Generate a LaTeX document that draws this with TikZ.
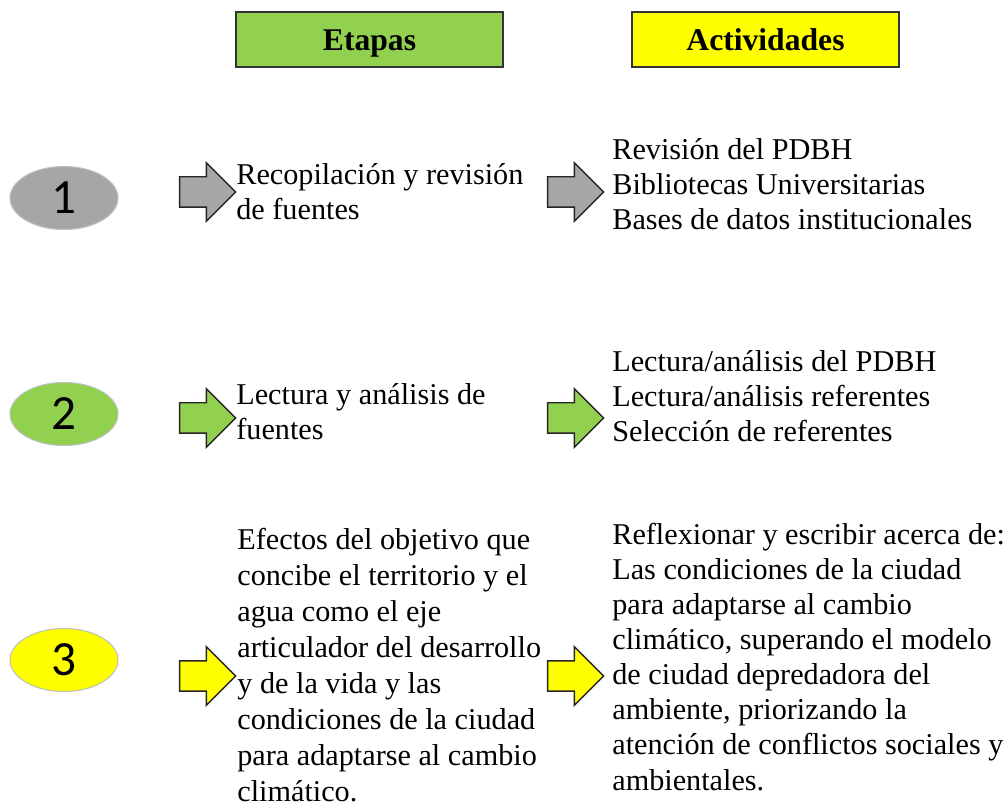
\documentclass[tikz,border=0pt]{standalone}
\usepackage{fontspec}
\setmainfont{Liberation Serif}
\newfontfamily\numfont{Carlito}
\usetikzlibrary{shapes.geometric,shapes.arrows}
\definecolor{verde}{RGB}{146,208,80}
\definecolor{amarillo}{RGB}{255,255,0}
\definecolor{gris}{RGB}{166,166,166}

\begin{document}
\begin{tikzpicture}[x=0.02cm, y=-0.02cm,
  encabezado/.style={draw=black!80, line width=1.1pt, minimum width=5.34cm, minimum height=1.1cm, text height=14pt, text depth=1.6pt, font=\fontsize{18}{22}\selectfont\bfseries},
  numero/.style={ellipse, draw=black!25, line width=0.6pt, minimum width=2.16cm, minimum height=1.26cm, inner sep=0pt, font=\numfont\fontsize{28}{30}\selectfont},
  flecha/.style={single arrow, draw=black!85, line width=0.8pt, inner xsep=0pt, inner ysep=0.29cm, minimum height=1.12cm, minimum width=1.14cm, single arrow head extend=0.28cm},
  texto/.style={anchor=base west, align=left, inner sep=0pt, font=\fontsize{17.2}{20}\selectfont}]
\useasboundingbox (0,0) rectangle (1008,810);
% Encabezados
\node[encabezado, fill=verde] (etapas) at (369.5,39.5) {Etapas};
\node[encabezado, fill=amarillo] (actividades) at (765.5,39.5) {Actividades};
% Etapa 1 (el ancla base cae en la ultima linea)
\node[numero, fill=gris] (n1) at (64,198) {1};
\node[flecha, fill=gris] (a1) at (200,192) {};
\node[flecha, fill=gris] (b1) at (568,192) {};
\node[texto] (e1) at (236,220) {Recopilación y revisión\\de fuentes};
\node[texto] (r1) at (612,230) {Revisión del PDBH\\Bibliotecas Universitarias\\Bases de datos institucionales};
% Etapa 2
\node[numero, fill=verde] (n2) at (64,414) {2};
\node[flecha, fill=verde] (a2) at (200,418) {};
\node[flecha, fill=verde] (b2) at (568,418) {};
\node[texto] (e2) at (236,440) {Lectura y análisis de\\fuentes};
\node[texto] (r2) at (612,442) {Lectura/análisis del PDBH\\Lectura/análisis referentes\\Selección de referentes};
% Etapa 3
\node[numero, fill=amarillo] (n3) at (64,660) {3};
\node[flecha, fill=amarillo] (a3) at (200,676) {};
\node[flecha, fill=amarillo] (b3) at (568,676) {};
\node[texto, font=\fontsize{17.2}{20.5}\selectfont] (e3) at (237,802) {Efectos del objetivo que\\concibe el territorio y el\\agua como el eje\\articulador del desarrollo\\y de la vida y las\\condiciones de la ciudad\\para adaptarse al cambio\\climático.};
\node[texto] (r3) at (612,790) {Reflexionar y escribir acerca de:\\Las condiciones de la ciudad\\para adaptarse al cambio\\climático, superando el modelo\\de ciudad depredadora del\\ambiente, priorizando la\\atención de conflictos sociales y\\ambientales.};
\end{tikzpicture}
\end{document}
